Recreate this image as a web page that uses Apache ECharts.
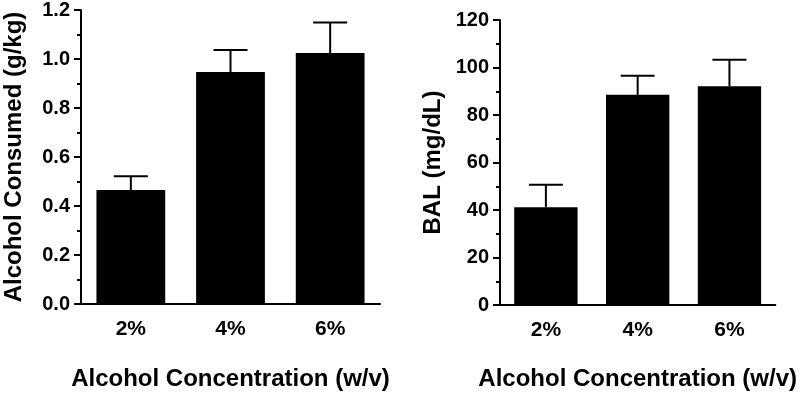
<!DOCTYPE html>
<html>
<head>
<meta charset="utf-8">
<script src="https://cdn.jsdelivr.net/npm/echarts@6/dist/echarts.min.js"></script>
<style>
  html, body { margin: 0; padding: 0; background: #fff; }
  #chart { width: 800px; height: 396px; }
</style>
</head>
<body>
<div id="chart"></div>
<script>
// --- données --- //
const categories = ['2%', '4%', '6%'];
const consumedMean = [0.465, 0.947, 1.024];
const consumedSem = [0.056, 0.090, 0.125];
const balMean = [41.2, 88.5, 92.1];
const balSem = [9.4, 8.0, 11.2];

const font = 'Liberation Sans, Arial, sans-serif';

function errorData(mean, sem) {
  return mean.map((m, i) => [i, m, m + sem[i]]);
}

function renderError(params, api) {
  const base = api.coord([api.value(0), api.value(1)]);
  const top = api.coord([api.value(0), api.value(2)]);
  const style = { stroke: '#000', lineWidth: 2 };
  return {
    type: 'group',
    children: [
      { type: 'line', shape: { x1: base[0], y1: base[1], x2: top[0], y2: top[1] }, style: style },
      { type: 'line', shape: { x1: top[0] - 17, y1: top[1], x2: top[0] + 17, y2: top[1] }, style: style }
    ]
  };
}

function xAxisFor(gridIndex, gap) {
  return {
    type: 'category',
    gridIndex: gridIndex,
    data: categories,
    name: 'Alcohol Concentration (w/v)',
    nameLocation: 'middle',
    nameGap: gap,
    nameTextStyle: { fontFamily: font, fontWeight: 'bold', fontSize: 24, color: '#000' },
    axisLine: { show: true, lineStyle: { color: '#000', width: 2 } },
    axisTick: { show: false },
    axisLabel: { margin: 15, fontFamily: font, fontWeight: 'bold', fontSize: 21, color: '#000' },
    splitLine: { show: false }
  };
}

function yAxisFor(gridIndex, name, max, interval, fmt) {
  return {
    type: 'value',
    gridIndex: gridIndex,
    min: 0,
    max: max,
    interval: interval,
    name: name,
    nameLocation: 'middle',
    nameGap: 55,
    nameTextStyle: { fontFamily: font, fontWeight: 'bold', fontSize: 24, color: '#000' },
    axisLine: { show: true, lineStyle: { color: '#000', width: 2 } },
    axisTick: { show: true, length: 7, lineStyle: { color: '#000', width: 2 } },
    minorTick: { show: true, splitNumber: 2, length: 4, lineStyle: { color: '#000', width: 2 } },
    axisLabel: { margin: 11, fontFamily: font, fontWeight: 'bold', fontSize: 20, color: '#000', formatter: fmt },
    splitLine: { show: false }
  };
}

option = {
  animation: false,
  backgroundColor: '#fff',
  grid: [
    { left: 81, top: 8.3, width: 299, height: 297.4 },
    { left: 500, top: 20, width: 290, height: 289.3 }
  ],
  xAxis: [xAxisFor(0, 63), xAxisFor(1, 62)],
  yAxis: [
    yAxisFor(0, 'Alcohol Consumed (g/kg)', 1.2, 0.2, v => v.toFixed(1)),
    yAxisFor(1, 'BAL (mg/dL)', 120, 20, v => String(v))
  ],
  series: [
    {
      type: 'bar', xAxisIndex: 0, yAxisIndex: 0, data: consumedMean,
      barWidth: '69%', itemStyle: { color: '#000' }
    },
    {
      type: 'custom', xAxisIndex: 0, yAxisIndex: 0, data: errorData(consumedMean, consumedSem),
      encode: { x: 0, y: [1, 2] }, renderItem: renderError, z: 3
    },
    {
      type: 'bar', xAxisIndex: 1, yAxisIndex: 1, data: balMean,
      barWidth: '69%', itemStyle: { color: '#000' }
    },
    {
      type: 'custom', xAxisIndex: 1, yAxisIndex: 1, data: errorData(balMean, balSem),
      encode: { x: 0, y: [1, 2] }, renderItem: renderError, z: 3
    }
  ]
};

const echartsInstance = echarts.init(document.getElementById('chart'));
echartsInstance.setOption(option);
</script>
</body>
</html>
